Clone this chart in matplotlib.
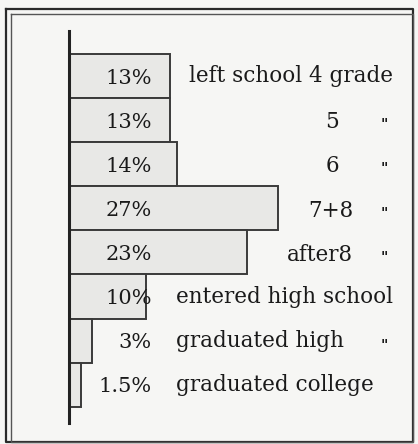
import numpy as np
import matplotlib
matplotlib.use('Agg')
from matplotlib import pyplot as plt
from matplotlib.lines import Line2D

# share of pupils by how far they went in school
pct_labels = ['13%', '13%', '14%', '27%', '23%', '10%', '3%', '1.5%']
values = [13, 13, 14, 27, 23, 10, 3, 1.5]
stages = ['left school 4 grade', '5', '6', '7+8', 'after8',
          'entered high school', 'graduated high', 'graduated college']
ditto = [False, True, True, True, True, False, True, False]

W, H = 418, 444
x0_px = 69.0        # pixel column of the zero line
px_per_pct = 7.74
row0_px = 76.0      # centre of the first bar
row_px = 44.1       # bar pitch

fig = plt.figure(figsize=(W / 100, H / 100), dpi=100)
fig.patch.set_facecolor('#f6f6f4')
ax = fig.add_axes([0, 0, 1, 1])
ax.set_facecolor('#f6f6f4')
ax.set_xlim(-x0_px / px_per_pct, (W - x0_px) / px_per_pct)
ax.set_ylim((H - row0_px) / row_px, -row0_px / row_px)
ax.axis('off')

rows = np.arange(len(values))
ax.barh(rows, values, height=1.0, left=0, color='#e8e8e6',
        edgecolor='#3a3a3a', linewidth=1.4, zorder=2)

# the vertical base line
ax.axvline(0, ymin=1 - 423 / H, ymax=1 - 31 / H, color='#222222',
           linewidth=2.2, zorder=3)

def px_x(px):
    return (px - x0_px) / px_per_pct

font = 'DejaVu Serif'
ink = '#1a1a1a'
fs = 15.5
for i, (lab, st) in enumerate(zip(pct_labels, stages)):
    ax.text(px_x(152), i + 0.05, lab, ha='right', va='center', fontsize=15,
            family=font, color=ink, zorder=4)
    if st in ('5', '6'):
        ax.text(px_x(332), i + 0.05, st, ha='center', va='center',
                fontsize=fs, family=font, color=ink, zorder=4)
    elif st in ('7+8', 'after8'):
        ax.text(px_x(353), i + 0.05, st, ha='right', va='center',
                fontsize=fs, family=font, color=ink, zorder=4)
    elif i == 0:
        ax.text(px_x(189), i, st, ha='left', va='center', fontsize=fs,
                family=font, color=ink, zorder=4)
    else:
        ax.text(px_x(176), i, st, ha='left', va='center', fontsize=fs,
                family=font, color=ink, zorder=4)
    if ditto[i]:
        ax.text(px_x(384), i + 0.12, '"', ha='center', va='center',
                fontsize=10, fontweight='bold', family=font, color=ink,
                zorder=4)

# double frame round the chart
def frame(x1, y1, x2, y2, lw, col='#2a2a2a'):
    xs = np.array([x1, x2, x2, x1, x1]) / W
    ys = 1 - np.array([y1, y1, y2, y2, y1]) / H
    fig.add_artist(Line2D(xs, ys, transform=fig.transFigure,
                          color=col, linewidth=lw))

frame(6, 9, 413, 442, 1.6)
frame(11, 14, 413, 442, 1.0, '#555555')

fig.savefig('out.png', dpi=100, facecolor=fig.get_facecolor())
